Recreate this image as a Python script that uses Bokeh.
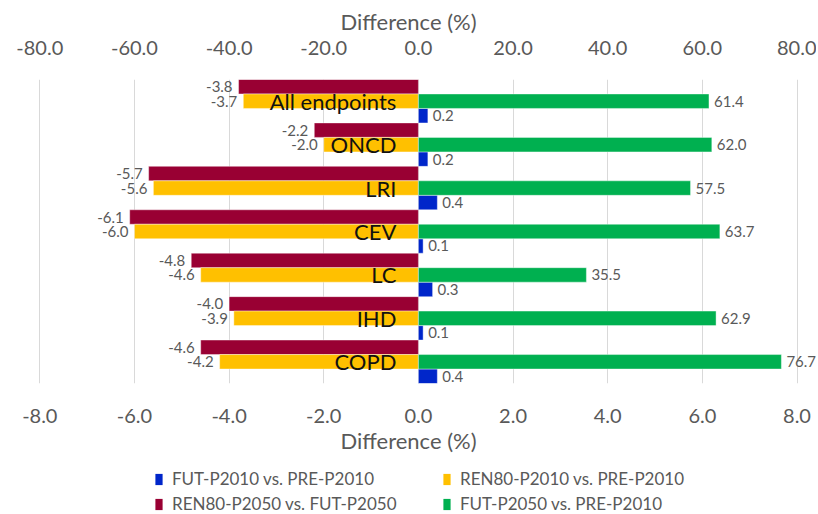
from bokeh.plotting import figure
from bokeh.layouts import column
from bokeh.models import (ColumnDataSource, Range1d, LinearAxis, FixedTicker,
                          NumeralTickFormatter, Legend, LegendItem)
from bokeh.core.properties import value
from bokeh.embed import file_html
from bokeh.resources import INLINE

categories = ["All endpoints", "ONCD", "LRI", "CEV", "LC", "IHD", "COPD"]
fut_p2010 = [0.2, 0.2, 0.4, 0.1, 0.3, 0.1, 0.4]
ren80_p2010 = [-3.7, -2.0, -5.6, -6.0, -4.6, -3.9, -4.2]
ren80_p2050 = [-3.8, -2.2, -5.7, -6.1, -4.8, -4.0, -4.6]
fut_p2050 = [61.4, 62.0, 57.5, 63.7, 35.5, 62.9, 76.7]
bottom_ticks = [-8, -6, -4, -2, 0, 2, 4, 6, 8]
top_ticks = [-80, -60, -40, -20, 0, 20, 40, 60, 80]
legend_labels = ["FUT-P2010 vs. PRE-P2010", "REN80-P2010 vs. PRE-P2010",
                 "REN80-P2050 vs. FUT-P2050", "FUT-P2050 vs. PRE-P2010"]

FONT = "Lato"
GREY = "#595959"
C_BLUE = "#0026CA"
C_YEL = "#FFC000"
C_RED = "#990033"
C_GRN = "#00B050"

W = 816
n = len(categories)
centers = [n - 0.5 - i for i in range(n)]
slot = 1.0 / 3.0

src = ColumnDataSource(dict(
    cat=categories,
    yc=centers,
    y_red=[c + slot for c in centers],
    y_blue=[c - slot for c in centers],
    blue=fut_p2010, yel=ren80_p2010, red=ren80_p2050, grn=fut_p2050,
    blue_t=[f"{v:.1f}" for v in fut_p2010],
    yel_t=[f"{v:.1f}" for v in ren80_p2010],
    red_t=[f"{v:.1f}" for v in ren80_p2050],
    grn_t=[f"{v:.1f}" for v in fut_p2050],
    zero=[0] * n,
))

# frame spans the full width; -8 sits at x=39.3 px, +8 at x=796.5 px
px_per_unit = (796.5 - 39.3) / 16.0
x_lo = -8 - 39.3 / px_per_unit
x_hi = 8 + (W - 796.5) / px_per_unit

p = figure(width=W, height=456, output_backend="svg", toolbar_location=None,
           x_range=Range1d(x_lo, x_hi), y_range=Range1d(0, n),
           x_axis_location="below", y_axis_location=None,
           min_border_left=0, min_border_right=0,
           min_border_top=79, min_border_bottom=71)
p.outline_line_color = None
p.background_fill_color = "white"
p.border_fill_color = "white"

p.extra_x_ranges = {"top": Range1d(x_lo * 10, x_hi * 10)}

xa = p.xaxis[0]
xa.ticker = FixedTicker(ticks=bottom_ticks)
xa.formatter = NumeralTickFormatter(format="0.0")

top_axis = LinearAxis(x_range_name="top", ticker=FixedTicker(ticks=top_ticks),
                      formatter=NumeralTickFormatter(format="0.0"))
p.add_layout(top_axis, "above")

for ax, standoff_lbl, standoff_title in ((xa, 19, 1), (top_axis, 19, 3)):
    ax.axis_label = "Difference (%)"
    ax.axis_label_text_font = FONT
    ax.axis_label_text_font_size = "22px"
    ax.axis_label_text_font_style = "normal"
    ax.axis_label_text_color = GREY
    ax.axis_label_standoff = standoff_title
    ax.major_label_text_font = FONT
    ax.major_label_text_font_size = "20px"
    ax.major_label_text_color = GREY
    ax.major_label_standoff = standoff_lbl
    ax.axis_line_color = None
    ax.major_tick_line_color = None
    ax.minor_tick_line_color = None

p.xgrid.ticker = FixedTicker(ticks=bottom_ticks)
p.xgrid.grid_line_color = "#D9D9D9"
p.xgrid.grid_line_width = 1
p.ygrid.grid_line_color = None

h = slot
p.hbar(y="y_red", left="zero", right="red", height=h, source=src,
       fill_color=C_RED, line_color="white", line_alpha=0.4)
p.hbar(y="yc", left="zero", right="yel", height=h, source=src,
       fill_color=C_YEL, line_color="white", line_alpha=0.4)
p.hbar(y="y_blue", left="zero", right="blue", height=h, source=src,
       fill_color=C_BLUE, line_color="white", line_alpha=0.4)
p.hbar(y="yc", left="zero", right="grn", height=h, source=src,
       x_range_name="top",
       fill_color=C_GRN, line_color="white", line_alpha=0.4)

common = dict(source=src, text_font=value(FONT), text_font_size="15px",
              text_color=GREY, text_baseline="middle")
p.text(x="red", y="y_red", text="red_t", x_offset=-6, text_align="right", **common)
p.text(x="yel", y="yc", text="yel_t", x_offset=-6, text_align="right", **common)
p.text(x="blue", y="y_blue", text="blue_t", x_offset=5, text_align="left", **common)
p.text(x="grn", y="yc", text="grn_t", x_offset=5, text_align="left",
       x_range_name="top", **common)

p.text(x="zero", y="yc", text="cat", source=src, x_offset=-22,
       text_align="right", text_baseline="middle",
       text_font=value(FONT), text_font_size="22px", text_color="#111111")

# legend strip underneath (proxy bars are placed outside the visible range)
lf = figure(width=W, height=58, output_backend="svg", toolbar_location=None,
            x_range=Range1d(0, 1), y_range=Range1d(0, 1),
            x_axis_location=None, y_axis_location=None,
            min_border_left=0, min_border_right=0,
            min_border_top=0, min_border_bottom=0)
lf.outline_line_color = None
lf.xgrid.grid_line_color = None
lf.ygrid.grid_line_color = None
items = []
for lab, col in zip(legend_labels, [C_BLUE, C_YEL, C_RED, C_GRN]):
    r = lf.hbar(y=[-10], left=[-10], right=[-9], height=0.1,
                fill_color=col, line_color=None)
    items.append(LegendItem(label=lab, renderers=[r]))

legend = Legend(items=items, orientation="horizontal", ncols=2, location=(154, 0))
legend.glyph_width = 9
legend.glyph_height = 14
legend.label_standoff = 9
legend.label_width = 266
legend.label_height = 21
legend.spacing = 4
legend.padding = 0
legend.margin = 0
legend.border_line_color = None
legend.background_fill_alpha = 0
legend.label_text_font = FONT
legend.label_text_font_size = "17px"
legend.label_text_color = GREY
lf.add_layout(legend, "center")

layout = column(p, lf, spacing=0)
open("out.html", "w").write(file_html(layout, INLINE))
